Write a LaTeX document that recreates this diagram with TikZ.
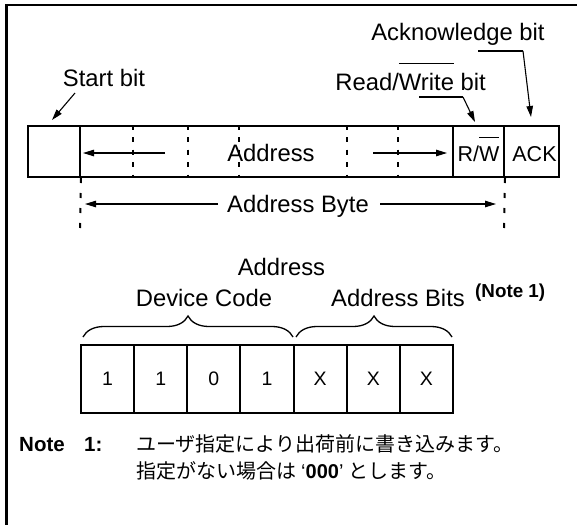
\documentclass[tikz,border=0pt]{standalone}
\usepackage{fontspec}
\setmainfont{Liberation Sans}
\newfontfamily\jpfont{Noto Sans CJK JP}
\newfontfamily\latinfont{Liberation Sans}
\usetikzlibrary{arrows.meta,decorations.pathreplacing}

% text with a bar drawn over it (active-low signal names)
\newcommand\barred[1]{\setbox0=\hbox{#1}\rlap{\smash{\rule[1.08em]{\wd0}{0.055em}}}\box0\relax}

\begin{document}
\begin{tikzpicture}[x=1pt,y=-1pt,
  lbl/.style={font=\fontsize{23.8}{28}\selectfont, inner sep=0pt, anchor=base},
  small/.style={font=\fontsize{21.5}{25}\selectfont, inner sep=0pt, anchor=base},
  digit/.style={font=\fontsize{19.5}{22}\selectfont, inner sep=0pt},
  cell/.style={draw, line width=2pt, inner sep=0pt, minimum height=51pt},
  bitcell/.style={draw, line width=2pt, inner sep=0pt, minimum width=53.14pt, minimum height=68pt},
  sep/.style={line width=2pt, dash pattern=on 5pt off 7.5pt, dash phase=1.5pt},
  ext/.style={line width=2pt, dash pattern=on 5pt off 10pt},
  arr/.style={line width=1.1pt, -{Triangle[length=11pt,width=6.5pt]}},
  leader/.style={line width=2.2pt},
  brc/.style={line width=1.3pt, decorate, decoration={brace, amplitude=21pt, aspect=0.5}},
  note/.style={font=\fontsize{20.5}{24}\selectfont\bfseries, inner sep=0pt, anchor=base west},
  jp/.style={font=\fontsize{20}{24}\jpfont, inner sep=0pt, anchor=base west}]
\useasboundingbox (0,0) rectangle (577,525);

% frame (top and left edges)
\draw[line width=2.5pt] (577,5) -- (6.5,5) -- (6.5,525);

% ---- byte layout ----
\node[cell, minimum width=52pt]  (sb)   at (54,151.5)    {};
\node[cell, minimum width=373pt] (addr) at (266.5,151.5) {};
\node[cell, minimum width=51pt]  (rwc)  at (478.5,151.5) {};
\node[cell, minimum width=55pt]  (ackc) at (531.5,151.5) {};

\foreach \x in {133,188,239,347,398}
  \draw[sep] (\x,126) -- (\x,177);

\node[lbl] (addrtxt) at (271,161) {Address};
\node[small] (rwtxt) at (478.5,161) {R/\barred{W}};
\node[small] (acktxt) at (534.5,161) {ACK};

\coordinate (la) at (165,153);
\coordinate (ra) at (373,153);
\coordinate (lt) at (83,153);
\coordinate (rt) at (447,153);
\draw[arr] (la) -- (lt);
\draw[arr] (ra) -- (rt);

% ---- callouts ----
\node[lbl] (start) at (104,86.5) {Start bit};
\coordinate (st0) at (75,93);
\coordinate (st1) at (52,120);
\draw[arr] (st0) -- (st1);

\node[lbl] (rwlbl) at (410.6,90) {Read/\barred{Write} bit};
\coordinate (rw0) at (419,97);
\coordinate (rw1) at (463,97);
\coordinate (rw2) at (475,122);
\draw[leader] (rw0) -- (rw1);
\draw[arr] (rw1) -- (rw2);

\node[lbl] (acklbl) at (458,40) {Acknowledge bit};
\coordinate (ak0) at (478,51);
\coordinate (ak1) at (523,51);
\coordinate (ak2) at (531,117);
\draw[leader] (ak0) -- (ak1);
\draw[arr] (ak1) -- (ak2);

% ---- address byte span ----
\coordinate (e1) at (80,228);
\coordinate (e2) at (504,228);
\draw[ext] (sb.south east) -- (e1);
\draw[ext] (rwc.south east) -- (e2);
\node[lbl] (abyte) at (298,212.5) {Address Byte};
\coordinate (bl0) at (218,204);
\coordinate (bl1) at (85,204);
\coordinate (br0) at (380,204);
\coordinate (br1) at (496,204);
\draw[arr] (bl0) -- (bl1);
\draw[arr] (br0) -- (br1);

% ---- address bits ----
\node[lbl] (ahead) at (281.5,275.5) {Address};
\node[lbl] (dev) at (204,306) {Device Code};
\node[lbl] (abits) at (398,306) {Address Bits};
\node[font=\fontsize{18.8}{22}\selectfont\bfseries, inner sep=0pt, anchor=base west] (n1) at (475,297) {(Note 1)};

\coordinate (b0) at (83,337);
\coordinate (b1) at (293,337);
\coordinate (b2) at (296,337);
\coordinate (b3) at (452,337);
\draw[brc] (b0) -- (b1);
\draw[brc] (b2) -- (b3);

\foreach \v [count=\i] in {1,1,0,1,X,X,X}
  \node[bitcell, digit] (bit\i) at ({81+53.14*(\i-0.5)},379) {\v};

% ---- note ----
\node[note] (nt) at (19,451) {Note};
\node[note] (nn) at (84,451) {1:};
\node[jp] (j1) at (136,451) {ユーザ指定により出荷前に書き込みます。};
\node[jp] (j2) at (136,478) {指定がない場合は\hspace{5pt}{\latinfont‘\textbf{000}’}\hspace{5pt}とします。};
\end{tikzpicture}
\end{document}
